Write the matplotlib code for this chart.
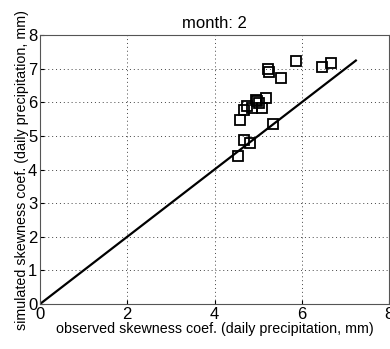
import numpy as np
import matplotlib
matplotlib.use('Agg')
import matplotlib.pyplot as plt

plt.rcParams['font.family'] = ['Liberation Sans', 'DejaVu Sans']

# observed vs simulated skewness, month 2
observed = [5.86, 6.47, 6.68, 5.23, 5.24, 5.52, 5.18, 4.95, 4.98, 5.02,
            4.75, 4.68, 4.86, 5.08, 4.59, 5.34, 4.67, 4.82, 4.53]
simulated = [7.24, 7.05, 7.17, 7.00, 6.89, 6.72, 6.14, 6.06, 6.04, 5.97,
             5.90, 5.76, 5.84, 5.83, 5.47, 5.34, 4.87, 4.79, 4.39]
ticks = [0, 1, 2, 3, 4, 5, 6, 7, 8]
xticks = [0, 2, 4, 6, 8]

fig = plt.figure(figsize=(3.9, 3.49), dpi=100)
ax = fig.add_axes([40 / 390, 45 / 349, 349 / 390, 269 / 349])

top = max(max(observed), max(simulated))
ax.plot([0, top], [0, top], color='black', lw=1.6)
ax.plot(observed, simulated, 's', mfc='none', mec='black', ms=6.5, mew=1.3)

ax.set_xlim(0, 8)
ax.set_ylim(0, 8)
ax.set_xticks(xticks)
ax.set_yticks(ticks)
ax.grid(True, ls=(0, (1, 3)), color='#444444', lw=0.7)
ax.tick_params(direction='in', labelsize=12, length=3, pad=2)
for s in ax.spines.values():
    s.set_color('#555555')

ax.set_title('month: 2', fontsize=12, pad=5)
ax.set_xlabel('observed skewness coef. (daily precipitation, mm)', fontsize=10.3, labelpad=0)
ax.set_ylabel('simulated skewness coef. (daily precipitation, mm)', fontsize=10.3, labelpad=-1)

fig.savefig('out.png', dpi=100)
